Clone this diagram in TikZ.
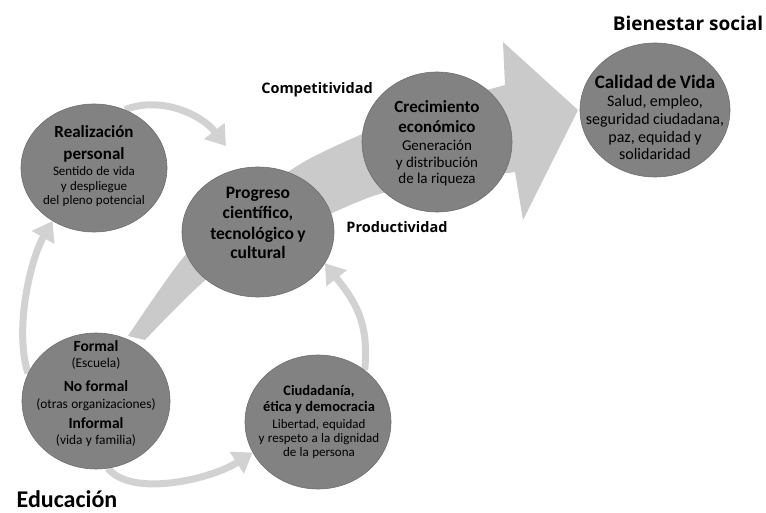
\documentclass[tikz,border=0pt]{standalone}
\usepackage{fontspec}
\setmainfont{Carlito}
\newfontfamily\labelfont{Open Sans}
\usetikzlibrary{shapes.geometric,arrows.meta,backgrounds}

\definecolor{bubblegray}{RGB}{130,130,130}
\definecolor{bubbleedge}{RGB}{110,110,110}
\definecolor{bandgray}{RGB}{202,202,202}
\definecolor{swoopgray}{RGB}{210,210,210}

% one line of bubble text: size, distance to the line above, text
\newcommand{\bubblehead}[3]{{\fontsize{#1}{#2}\selectfont\bfseries #3\par}}
\newcommand{\bubbleline}[3]{{\fontsize{#1}{#2}\selectfont #3\par}}

\begin{document}
\begin{tikzpicture}[x=1pt,y=1pt,yscale=-1,
  bubble/.style={ellipse,fill=bubblegray,draw=bubbleedge,line width=0.6pt,inner sep=0pt},
  bubbletext/.style={text width=170pt,align=center,inner sep=0pt},
  swoop/.style={draw=swoopgray,line width=7pt,-{Triangle[width=25pt,length=19pt]}},
  tag/.style={font=\labelfont\bfseries,inner sep=0pt}]
\useasboundingbox (0,0) rectangle (766,513);

%Shape: Ellipse
\node [bubble,minimum width=146pt,minimum height=128pt] (realizacion) at (94,168) {};
%Shape: Ellipse
\node [bubble,minimum width=152pt,minimum height=130pt] (progreso) at (258,232) {};
%Shape: Ellipse
\node [bubble,minimum width=150pt,minimum height=140pt] (crecimiento) at (437,142) {};
%Shape: Ellipse
\node [bubble,minimum width=150pt,minimum height=134pt] (calidad) at (655,110) {};
%Shape: Ellipse
\node [bubble,minimum width=148pt,minimum height=136pt] (educacion) at (96,401) {};
%Shape: Ellipse
\node [bubble,minimum width=146pt,minimum height=134pt] (ciudadania) at (318,422) {};

\coordinate (realizaciontip) at (226,146);

\begin{scope}[on background layer]
%Shape: Big Arrow
\fill [bandgray] plot [smooth] coordinates {(128,336) (187,253) (245,204) (302,163) (367,132) (440,104) (505,85)}
  -- (503,42) -- (578,110) -- (523,220) -- (515,172)
  -- plot [smooth] coordinates {(450,181) (383,193) (332,213) (270,242) (208,278) (145,340)} -- cycle;
%Curve Lines
\draw [swoop] (realizacion.62) .. controls +(35,-14) and +(-25,-32) .. (realizaciontip);
%Curve Lines
\draw [swoop] (educacion.158) .. controls +(-14,-45) and +(-22,38) .. (realizacion.232);
%Curve Lines
\draw [swoop] (ciudadania.48) .. controls +(5,-50) and +(28,36) .. (progreso.-25);
%Curve Lines
\draw [swoop] (educacion.-80) .. controls +(25,30) and +(-40,26) .. (ciudadania.205);
\end{scope}

% Text Node
\node [bubbletext] (realizaciontext) at (94,166) {\bubblehead{17}{20}{Realización}\bubblehead{17}{22}{personal}\bubbleline{13}{16}{Sentido de vida}\bubbleline{13}{15}{y despliegue}\bubbleline{13}{14.5}{del pleno potencial}};
% Text Node
\node [bubbletext] (progresotext) at (258,223) {\bubblehead{17.5}{20}{Progreso}\bubblehead{17.5}{20}{científico,}\bubblehead{17.5}{21}{tecnológico y}\bubblehead{17.5}{19}{cultural}};
% Text Node
\node [bubbletext] (crecimientotext) at (437,143) {\bubblehead{17}{20}{Crecimiento}\bubblehead{17}{20}{económico}\bubbleline{15}{18}{Generación}\bubbleline{15}{17}{y distribución}\bubbleline{15}{16}{de la riqueza}};
% Text Node
\node [bubbletext] (calidadtext) at (655,117) {\bubblehead{19}{20}{Calidad de Vida}\bubbleline{16}{18}{Salud, empleo,}\bubbleline{16}{18}{seguridad ciudadana,}\bubbleline{16}{18}{paz, equidad y}\bubbleline{16}{17}{solidaridad}};
% Text Node
\node [bubbletext] (educaciontext) at (96,394) {\bubblehead{15.5}{17}{Formal}\bubbleline{13.4}{16}{(Escuela)}\bubblehead{15.5}{24}{No formal}\bubbleline{13.4}{17}{(otras organizaciones)}\bubblehead{15.5}{20}{Informal}\bubbleline{13.4}{16}{(vida y familia)}};
% Text Node
\node [bubbletext] (ciudadaniatext) at (319,422) {\bubblehead{14.5}{16}{Ciudadanía,}\bubblehead{14.5}{16}{ética y democracia}\bubbleline{13}{17}{Libertad, equidad}\bubbleline{13}{14}{y respeto a la dignidad}\bubbleline{13}{14}{de la persona}};

% Text Node
\node [tag,font=\labelfont\bfseries\fontsize{19}{21}\selectfont] (bienestar) at (688,23) {Bienestar social};
% Text Node
\node [tag,font=\labelfont\bfseries\fontsize{14.5}{16}\selectfont] (competitividad) at (317,90) {Competitividad};
% Text Node
\node [tag,font=\labelfont\bfseries\fontsize{14.5}{16}\selectfont] (productividad) at (397,227) {Productividad};
% Text Node
\node [tag,font=\bfseries\fontsize{24}{26}\selectfont,anchor=base] (educacionlabel) at (67,507) {Educación};

\end{tikzpicture}
\end{document}
